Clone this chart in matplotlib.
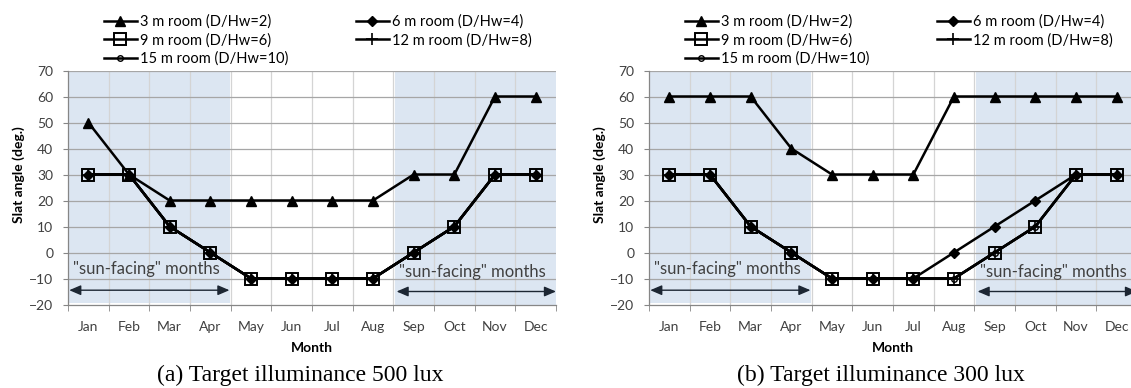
import matplotlib
matplotlib.use('Agg')
import matplotlib.pyplot as plt
from matplotlib.lines import Line2D
from matplotlib.patches import Rectangle

months = ['Jan', 'Feb', 'Mar', 'Apr', 'May', 'Jun', 'Jul', 'Aug', 'Sep', 'Oct', 'Nov', 'Dec']
series_names = ['3 m room (D/Hw=2)', '6 m room (D/Hw=4)', '9 m room (D/Hw=6)',
                '12 m room (D/Hw=8)', '15 m room (D/Hw=10)']

# (a) target illuminance 500 lux
lux500_3m = [50, 30, 20, 20, 20, 20, 20, 20, 30, 30, 60, 60]
lux500_6m = [30, 30, 10, 0, -10, -10, -10, -10, 0, 10, 30, 30]
lux500_9m = [30, 30, 10, 0, -10, -10, -10, -10, 0, 10, 30, 30]
lux500_12m = [30, 30, 10, 0, -10, -10, -10, -10, 0, 10, 30, 30]
lux500_15m = [30, 30, 10, 0, -10, -10, -10, -10, 0, 10, 30, 30]

# (b) target illuminance 300 lux
lux300_3m = [60, 60, 60, 40, 30, 30, 30, 60, 60, 60, 60, 60]
lux300_6m = [30, 30, 10, 0, -10, -10, -10, 0, 10, 20, 30, 30]
lux300_9m = [30, 30, 10, 0, -10, -10, -10, -10, 0, 10, 30, 30]
lux300_12m = [30, 30, 10, 0, -10, -10, -10, -10, 0, 10, 30, 30]
lux300_15m = [30, 30, 10, 0, -10, -10, -10, -10, 0, 10, 30, 30]

captions = ['(a) Target illuminance 500 lux', '(b) Target illuminance 300 lux']

SANS = 'Lato'
TXT = '#404040'
SHADE = '#dce6f2'
ARROW = '#1c2633'
ARROWSTYLE = '<|-|>,head_length=0.7,head_width=0.3'

styles = [
    dict(marker='^', markersize=7, markerfacecolor='black', markeredgecolor='black'),
    dict(marker='D', markersize=5, markerfacecolor='black', markeredgecolor='black'),
    dict(marker='s', markersize=9, markerfacecolor='none', markeredgecolor='black', markeredgewidth=1.4),
    dict(marker='+', markersize=8, markeredgecolor='black', markeredgewidth=1.2),
    dict(marker='o', markersize=4, markerfacecolor='none', markeredgecolor='black', markeredgewidth=1.0),
]

W, H = 1131, 388
fig = plt.figure(figsize=(W / 100, H / 100), dpi=100)


def draw_panel(left_px, data, caption):
    ax = fig.add_axes([left_px / W, (H - 304.5) / H, 488 / W, 234 / H])
    x = list(range(1, 13))

    # "sun-facing" shaded blocks
    ax.add_patch(Rectangle((0.52, -19.3), 3.96, 89.3, facecolor=SHADE, edgecolor='none', zorder=0.2))
    ax.add_patch(Rectangle((8.54, -20.5), 3.96, 90.5, facecolor=SHADE, edgecolor='none',
                           zorder=0.2, clip_on=False))

    for yv in range(-10, 80, 10):
        ax.axhline(yv, color='#a6a6a6', lw=0.9, zorder=1)
    for xb in range(1, 12):
        ax.axvline(xb + 0.5, color='#d4d4d4', lw=0.9, zorder=0.9)

    for vals, st in zip(data, styles):
        ax.plot(x, vals, color='black', lw=1.8, zorder=3, clip_on=False, **st)

    ax.annotate('', xy=(0.53, -14.5), xytext=(4.47, -14.5),
                arrowprops=dict(arrowstyle=ARROWSTYLE, color=ARROW, lw=1.0,
                                mutation_scale=10, shrinkA=0, shrinkB=0), zorder=4)
    ax.annotate('', xy=(8.58, -15), xytext=(12.5, -15),
                arrowprops=dict(arrowstyle=ARROWSTYLE, color=ARROW, lw=1.0,
                                mutation_scale=10, shrinkA=0, shrinkB=0),
                zorder=4, annotation_clip=False)
    ax.text(0.62, -6.5, '"sun-facing" months', fontsize=12, family=SANS, color=TXT,
            va='center', ha='left', zorder=4)
    ax.text(8.65, -7.6, '"sun-facing" months', fontsize=12, family=SANS, color=TXT,
            va='center', ha='left', zorder=4)

    ax.set_xlim(0.5, 12.5)
    ax.set_ylim(-20, 70)
    ax.set_yticks(range(-20, 80, 10))
    ax.set_xticks(x)
    ax.set_xticklabels(months)
    ax.set_xticks([b + 0.5 for b in range(0, 13)], minor=True)
    ax.tick_params(axis='x', which='major', length=0, pad=12, labelsize=10, labelcolor=TXT)
    ax.tick_params(axis='x', which='minor', length=4.3, color='#868686', direction='out')
    ax.tick_params(axis='y', length=3.6, color='#868686', pad=7, labelsize=10, labelcolor=TXT)
    for lab in ax.get_xticklabels() + ax.get_yticklabels():
        lab.set_family(SANS)

    for side in ['top', 'right']:
        ax.spines[side].set_visible(False)
    for side in ['left', 'bottom']:
        ax.spines[side].set_color('#868686')
        ax.spines[side].set_linewidth(0.9)

    ax.set_ylabel('Slat angle (deg.)', fontsize=10, fontweight='bold', family=SANS)
    ax.yaxis.set_label_coords(-0.088, 0.553)
    ax.set_xlabel('Month', fontsize=10, fontweight='bold', family=SANS, labelpad=6)

    handles = [Line2D([], [], color='black', lw=1.8, **st) for st in styles]
    # row-wise order: 3m, 6m / 9m, 12m / 15m
    col1 = [0, 2, 4]
    col2 = [1, 3]
    for cols, off in [(col1, 36), (col2, 288)]:
        fig.legend([handles[i] for i in cols], [series_names[i] for i in cols],
                   loc='upper left', bbox_to_anchor=((left_px + off) / W, 1 - 14.5 / H),
                   frameon=False, prop=dict(family=SANS, size=10.5),
                   handlelength=2.26, handletextpad=0.2, labelspacing=0.28,
                   borderpad=0, borderaxespad=0, numpoints=1)

    fig.text((left_px + 232) / W, 1 - 375 / H, caption, ha='center', va='center',
             fontsize=17, family='Liberation Serif')
    return ax


draw_panel(68, [lux500_3m, lux500_6m, lux500_9m, lux500_12m, lux500_15m], captions[0])
draw_panel(649, [lux300_3m, lux300_6m, lux300_9m, lux300_12m, lux300_15m], captions[1])

fig.savefig('out.png', dpi=100)
